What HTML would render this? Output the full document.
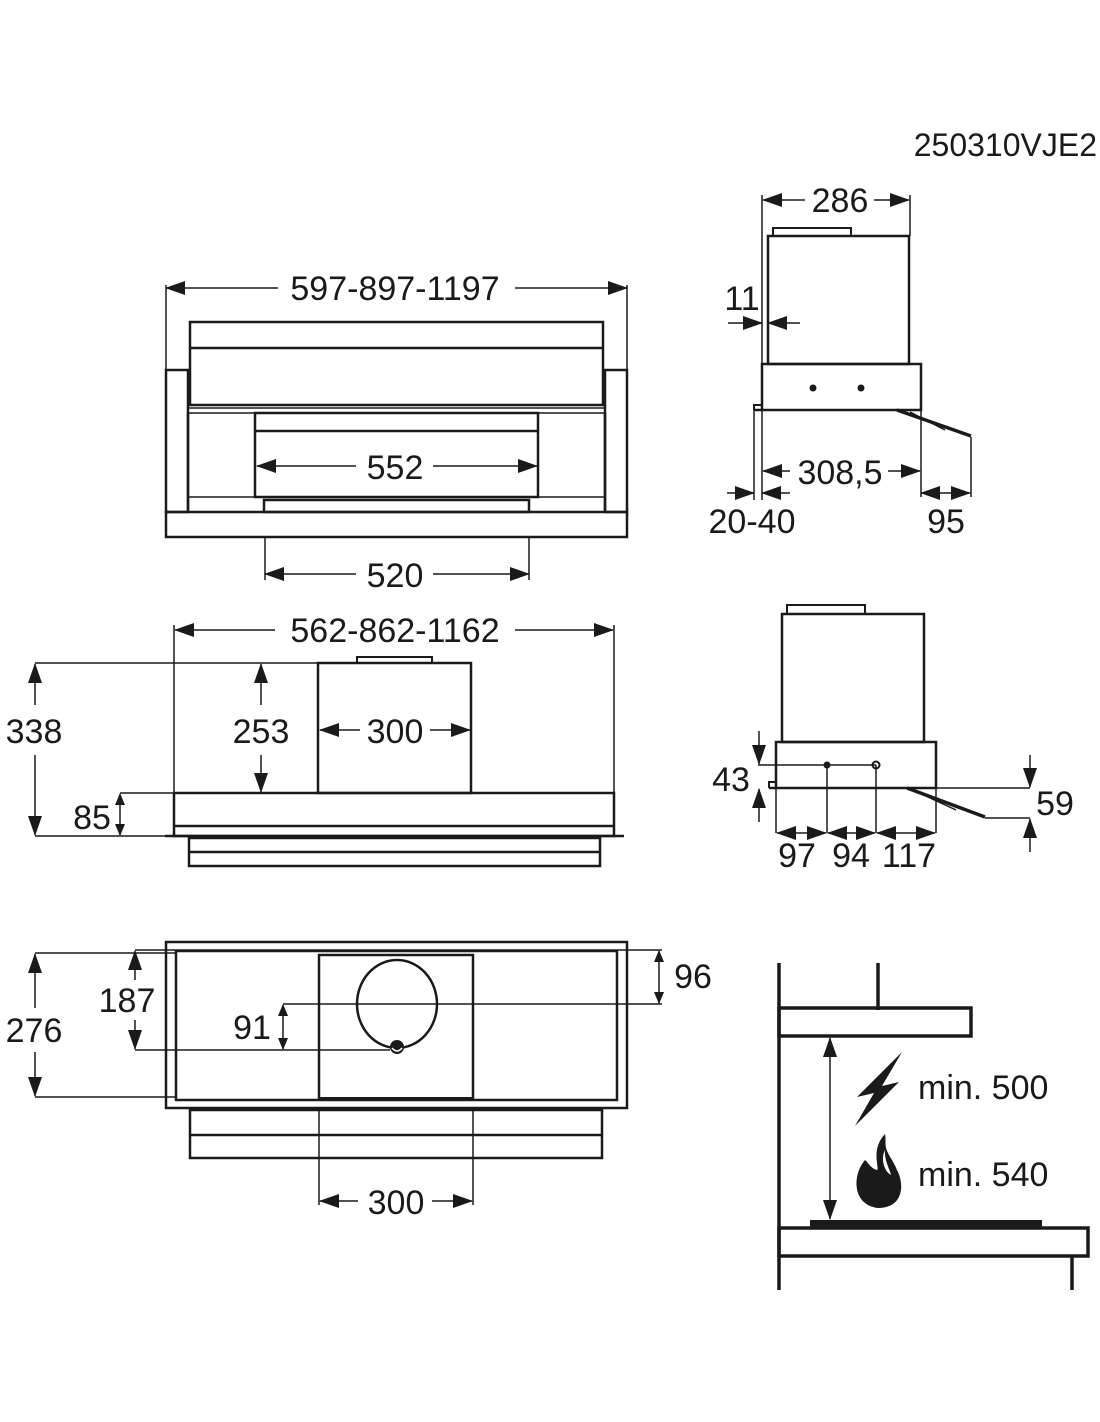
<!DOCTYPE html>
<html><head><meta charset="utf-8"><style>
html,body{margin:0;padding:0;background:#fff}
svg{display:block}
text{font-family:"Liberation Sans",sans-serif;fill:#1a1a1a}
</style></head><body>
<svg width="1100" height="1422" viewBox="0 0 1100 1422" xmlns="http://www.w3.org/2000/svg">
<defs>
<marker id="a" markerUnits="userSpaceOnUse" markerWidth="20" markerHeight="14" refX="19" refY="7" orient="auto"><path d="M0,0 L20,7 L0,14 Z" fill="#1a1a1a"/></marker>
<marker id="s" markerUnits="userSpaceOnUse" markerWidth="12" markerHeight="10" refX="11" refY="5" orient="auto"><path d="M0,0 L12,5 L0,10 Z" fill="#1a1a1a"/></marker>
</defs>
<text x="1097" y="156" font-size="32" text-anchor="end">250310VJE2</text>

<!-- TOP LEFT -->
<g stroke="#1a1a1a" fill="none" stroke-width="2.5">
<rect x="190" y="322" width="413" height="83"/>
<line x1="190" y1="348" x2="603" y2="348"/>
<line x1="188" y1="408" x2="605" y2="408" stroke-width="1.5"/>
<line x1="188" y1="413" x2="605" y2="413" stroke-width="1.5"/>
<rect x="166" y="370" width="22" height="142"/>
<rect x="605" y="370" width="22" height="142"/>
<line x1="188" y1="413" x2="188" y2="512"/>
<line x1="605" y1="413" x2="605" y2="512"/>
<rect x="255" y="413" width="283" height="84"/>
<line x1="255" y1="431" x2="538" y2="431"/>
<line x1="188" y1="497" x2="605" y2="497" stroke-width="1.5"/>
<rect x="264" y="500" width="265" height="12"/>
<rect x="166" y="512" width="461" height="25"/>
</g>
<g stroke="#1a1a1a" fill="none" stroke-width="1.5">
<line x1="166" y1="285" x2="166" y2="370"/>
<line x1="627" y1="285" x2="627" y2="370"/>
<line x1="278" y1="288" x2="166" y2="288" marker-end="url(#a)"/>
<line x1="515" y1="288" x2="627" y2="288" marker-end="url(#a)"/>
<line x1="356" y1="466" x2="257" y2="466" marker-end="url(#a)"/>
<line x1="433" y1="466" x2="537" y2="466" marker-end="url(#a)"/>
<line x1="265" y1="537" x2="265" y2="580"/>
<line x1="529" y1="537" x2="529" y2="580"/>
<line x1="356" y1="574" x2="265" y2="574" marker-end="url(#a)"/>
<line x1="433" y1="574" x2="529" y2="574" marker-end="url(#a)"/>
</g>
<text x="395" y="300" font-size="34" text-anchor="middle">597-897-1197</text>
<text x="395" y="479" font-size="34" text-anchor="middle">552</text>
<text x="395" y="587" font-size="34" text-anchor="middle">520</text>

<!-- TOP RIGHT -->
<g stroke="#1a1a1a" fill="none" stroke-width="2.5">
<rect x="773" y="228" width="78" height="8" stroke-width="2"/>
<rect x="768" y="236" width="141" height="128"/>
<rect x="762" y="364" width="159" height="46"/>
<path d="M754,410 L754,405 L762,405" stroke-width="2"/>
<line x1="754" y1="410" x2="762" y2="410"/>
<path d="M897,410 L971,436" stroke-width="3.5"/>
<path d="M910,412 L945,430" stroke-width="1.5"/>
</g>
<circle cx="813" cy="388" r="3.5" fill="#1a1a1a"/>
<circle cx="861" cy="388" r="3.5" fill="#1a1a1a"/>
<g stroke="#1a1a1a" fill="none" stroke-width="1.5">
<line x1="762" y1="195" x2="762" y2="500"/>
<line x1="910" y1="195" x2="910" y2="236"/>
<line x1="754" y1="410" x2="754" y2="500"/>
<line x1="921" y1="410" x2="921" y2="497"/>
<line x1="971" y1="437" x2="971" y2="497"/>
<line x1="805" y1="200" x2="763" y2="200" marker-end="url(#a)"/>
<line x1="874" y1="200" x2="909" y2="200" marker-end="url(#a)"/>
<line x1="728" y1="323" x2="762" y2="323" marker-end="url(#a)"/>
<line x1="800" y1="323" x2="768" y2="323" marker-end="url(#a)"/>
<line x1="790" y1="471" x2="763" y2="471" marker-end="url(#a)"/>
<line x1="888" y1="471" x2="920" y2="471" marker-end="url(#a)"/>
<line x1="727" y1="493" x2="754" y2="493" marker-end="url(#a)"/>
<line x1="790" y1="493" x2="762" y2="493" marker-end="url(#a)"/>
<line x1="946" y1="493" x2="921" y2="493" marker-end="url(#a)"/>
<line x1="946" y1="493" x2="970" y2="493" marker-end="url(#a)"/>
</g>
<text x="840" y="212" font-size="34" text-anchor="middle">286</text>
<text x="742" y="310" font-size="34" text-anchor="middle">11</text>
<text x="840" y="484" font-size="34" text-anchor="middle">308,5</text>
<text x="752" y="533" font-size="34" text-anchor="middle">20-40</text>
<text x="946" y="533" font-size="34" text-anchor="middle">95</text>

<!-- MIDDLE LEFT -->
<g stroke="#1a1a1a" fill="none" stroke-width="2.5">
<rect x="357" y="657" width="75" height="6" stroke-width="2"/>
<rect x="318" y="663" width="153" height="130"/>
<rect x="174" y="793" width="440" height="43"/>
<line x1="174" y1="826" x2="614" y2="826"/>
<line x1="165" y1="836" x2="624" y2="836"/>
<rect x="189" y="838" width="411" height="28"/>
<line x1="189" y1="852" x2="600" y2="852"/>
</g>
<g stroke="#1a1a1a" fill="none" stroke-width="1.5">
<line x1="174" y1="625" x2="174" y2="793"/>
<line x1="614" y1="625" x2="614" y2="793"/>
<line x1="275" y1="630" x2="175" y2="630" marker-end="url(#a)"/>
<line x1="515" y1="630" x2="613" y2="630" marker-end="url(#a)"/>
<line x1="35" y1="663" x2="318" y2="663"/>
<line x1="35" y1="836" x2="174" y2="836"/>
<line x1="120" y1="793" x2="174" y2="793"/>
<line x1="35" y1="705" x2="35" y2="664" marker-end="url(#a)"/>
<line x1="35" y1="755" x2="35" y2="835" marker-end="url(#a)"/>
<line x1="261" y1="705" x2="261" y2="664" marker-end="url(#a)"/>
<line x1="261" y1="755" x2="261" y2="792" marker-end="url(#a)"/>
<line x1="120" y1="814" x2="120" y2="794" marker-end="url(#s)"/>
<line x1="120" y1="814" x2="120" y2="835" marker-end="url(#s)"/>
<line x1="360" y1="730" x2="320" y2="730" marker-end="url(#a)"/>
<line x1="430" y1="730" x2="470" y2="730" marker-end="url(#a)"/>
</g>
<text x="395" y="642" font-size="34" text-anchor="middle">562-862-1162</text>
<text x="34" y="743" font-size="34" text-anchor="middle">338</text>
<text x="261" y="743" font-size="34" text-anchor="middle">253</text>
<text x="395" y="743" font-size="34" text-anchor="middle">300</text>
<text x="92" y="829" font-size="34" text-anchor="middle">85</text>

<!-- MIDDLE RIGHT -->
<g stroke="#1a1a1a" fill="none" stroke-width="2.5">
<rect x="787" y="605" width="78" height="9" stroke-width="2"/>
<rect x="782" y="614" width="142" height="128"/>
<rect x="776" y="742" width="160" height="46"/>
<path d="M769,788 L769,782 L776,782" stroke-width="2"/>
<line x1="769" y1="788" x2="776" y2="788"/>
<path d="M907,788 L985,817" stroke-width="3.5"/>
<path d="M915,791 L956,810" stroke-width="1.5"/>
</g>
<circle cx="827" cy="765" r="3.5" fill="#1a1a1a"/>
<circle cx="876" cy="765" r="3.5" fill="none" stroke="#1a1a1a" stroke-width="2"/>
<g stroke="#1a1a1a" fill="none" stroke-width="1.5">
<line x1="758" y1="765" x2="876" y2="765"/>
<line x1="827" y1="765" x2="827" y2="833"/>
<line x1="876" y1="765" x2="876" y2="833"/>
<line x1="776" y1="788" x2="776" y2="833"/>
<line x1="936" y1="788" x2="936" y2="833"/>
<line x1="936" y1="788" x2="1030" y2="788"/>
<line x1="985" y1="818" x2="1030" y2="818"/>
<line x1="759" y1="731" x2="759" y2="764" marker-end="url(#a)"/>
<line x1="759" y1="822" x2="759" y2="789" marker-end="url(#a)"/>
<line x1="1030" y1="755" x2="1030" y2="787" marker-end="url(#a)"/>
<line x1="1030" y1="852" x2="1030" y2="819" marker-end="url(#a)"/>
<line x1="802" y1="833" x2="777" y2="833" marker-end="url(#a)"/>
<line x1="802" y1="833" x2="826" y2="833" marker-end="url(#a)"/>
<line x1="851" y1="833" x2="828" y2="833" marker-end="url(#a)"/>
<line x1="851" y1="833" x2="875" y2="833" marker-end="url(#a)"/>
<line x1="906" y1="833" x2="877" y2="833" marker-end="url(#a)"/>
<line x1="906" y1="833" x2="935" y2="833" marker-end="url(#a)"/>
</g>
<text x="731" y="791" font-size="34" text-anchor="middle">43</text>
<text x="1055" y="815" font-size="34" text-anchor="middle">59</text>
<text x="797" y="867" font-size="34" text-anchor="middle">97</text>
<text x="851" y="867" font-size="34" text-anchor="middle">94</text>
<text x="909" y="867" font-size="34" text-anchor="middle">117</text>

<!-- BOTTOM LEFT -->
<g stroke="#1a1a1a" fill="none" stroke-width="2.5">
<rect x="166" y="942" width="461" height="166"/>
<rect x="176" y="951" width="441" height="149"/>
<path d="M319,1100 L319,955 L473,955 L473,1100"/>
<line x1="319" y1="1099" x2="473" y2="1099" stroke-width="4"/>
<ellipse cx="397" cy="1004" rx="40" ry="44"/>
<rect x="190" y="1110" width="412" height="48"/>
<line x1="190" y1="1135" x2="602" y2="1135"/>
</g>
<circle cx="397" cy="1047" r="7" fill="#1a1a1a"/>
<path d="M392,1048 Q397,1054 402,1048" stroke="#fff" stroke-width="1.5" fill="none"/>
<g stroke="#1a1a1a" fill="none" stroke-width="1.5">
<line x1="319" y1="1108" x2="319" y2="1205"/>
<line x1="473" y1="1108" x2="473" y2="1205"/>
<line x1="358" y1="1201" x2="320" y2="1201" marker-end="url(#a)"/>
<line x1="432" y1="1201" x2="472" y2="1201" marker-end="url(#a)"/>
<line x1="35" y1="953" x2="176" y2="953"/>
<line x1="35" y1="1097" x2="176" y2="1097"/>
<line x1="35" y1="1008" x2="35" y2="954" marker-end="url(#a)"/>
<line x1="35" y1="1052" x2="35" y2="1096" marker-end="url(#a)"/>
<line x1="135" y1="950" x2="662" y2="950"/>
<line x1="135" y1="980" x2="135" y2="951" marker-end="url(#a)"/>
<line x1="135" y1="1020" x2="135" y2="1049" marker-end="url(#a)"/>
<line x1="135" y1="1050" x2="390" y2="1050"/>
<line x1="283" y1="1025" x2="283" y2="1005" marker-end="url(#s)"/>
<line x1="283" y1="1025" x2="283" y2="1049" marker-end="url(#s)"/>
<line x1="283" y1="1004" x2="662" y2="1004"/>
<line x1="659" y1="975" x2="659" y2="951" marker-end="url(#s)"/>
<line x1="659" y1="975" x2="659" y2="1003" marker-end="url(#s)"/>
</g>
<text x="34" y="1042" font-size="34" text-anchor="middle">276</text>
<text x="127" y="1012" font-size="34" text-anchor="middle">187</text>
<text x="252" y="1039" font-size="34" text-anchor="middle">91</text>
<text x="693" y="988" font-size="34" text-anchor="middle">96</text>
<text x="396" y="1214" font-size="34" text-anchor="middle">300</text>

<!-- BOTTOM RIGHT -->
<g stroke="#1a1a1a" fill="none" stroke-width="3.5">
<line x1="779" y1="963" x2="779" y2="1290"/>
<line x1="878" y1="963" x2="878" y2="1010"/>
<rect x="779" y="1008" width="192" height="28"/>
<rect x="779" y="1228" width="309" height="28"/>
<line x1="1072" y1="1256" x2="1072" y2="1290"/>
</g>
<rect x="810" y="1220" width="232" height="9" fill="#1a1a1a"/>
<g stroke="#1a1a1a" fill="none" stroke-width="1.5">
<line x1="830" y1="1120" x2="830" y2="1038" marker-end="url(#a)"/>
<line x1="830" y1="1120" x2="830" y2="1219" marker-end="url(#a)"/>
</g>
<path d="M902,1052 L857,1097 L874,1093 L855,1126 L899,1082 L882,1086 Z" fill="#1a1a1a"/>
<path d="M885,1134 C870,1150 880,1168 877,1170 C870,1168 868,1162 865,1160 C852,1175 852,1205 878,1208 C903,1208 905,1185 897,1170 C893,1160 888,1155 886,1148 C885,1143 886,1138 885,1134 Z M885,1150 C884,1160 890,1170 891,1175 C885,1172 880,1160 885,1150 Z" fill="#1a1a1a" fill-rule="evenodd"/>
<text x="918" y="1099" font-size="34">min. 500</text>
<text x="918" y="1186" font-size="34">min. 540</text>
</svg>
</body></html>
